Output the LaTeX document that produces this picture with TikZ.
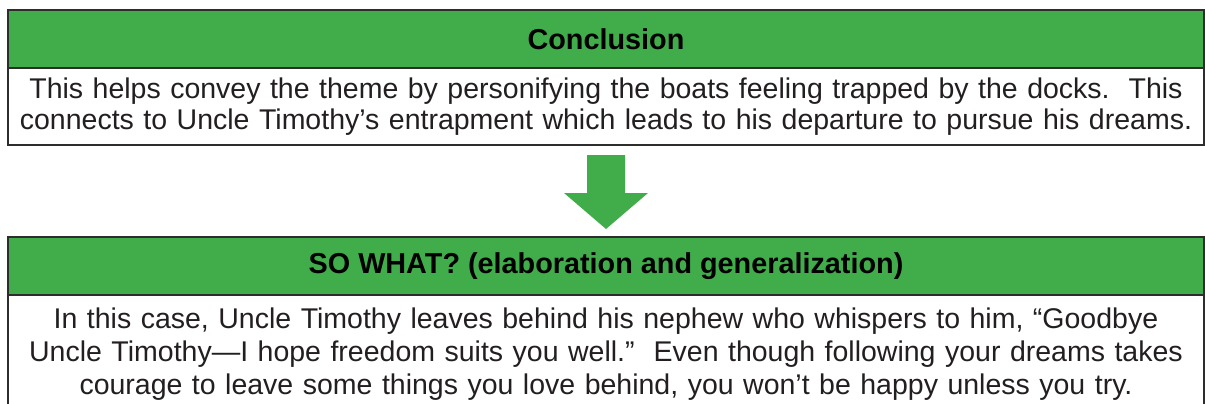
\documentclass[tikz,border=0pt]{standalone}
\usepackage{fontspec}
\setmainfont{Liberation Sans}
\usetikzlibrary{positioning,calc}

\definecolor{boxgreen}{RGB}{64,173,74}
\definecolor{edgegray}{RGB}{45,45,45}
\definecolor{inkgray}{RGB}{35,31,32}

\tikzset{
    headbox/.style={draw=edgegray, line width=1.5pt, fill=boxgreen, outer sep=0pt, inner sep=0pt,
        minimum width=1196pt, minimum height=58pt, font=\fontsize{28.8}{32}\selectfont\bfseries},
    textbox/.style={draw=edgegray, line width=1.5pt, fill=white, outer sep=0pt, inner sep=0pt,
        minimum width=1196pt, text width=1190pt, align=center, text=inkgray,
        font=\fontsize{28.5}{33}\selectfont},
}

\begin{document}
\begin{tikzpicture}[x=1pt,y=-1pt]
    \clip (0,0) rectangle (1205,404);
    % Nodes
    \node[headbox] (conclusion) at (606,39) {Conclusion};
    \node[textbox, minimum height=77pt, below=0pt of conclusion,
          font=\fontsize{28.5}{31}\selectfont] (conclusiontext)
        {This helps convey the theme by personifying the boats feeling trapped by the docks.\ \ This\\
         connects to Uncle Timothy’s entrapment which leads to his departure to pursue his dreams.};
    \node[headbox, below=92pt of conclusiontext] (sowhat) {SO WHAT? (elaboration and generalization)};
    \node[textbox, minimum height=118pt, below=0pt of sowhat] (sowhattext)
        {In this case, Uncle Timothy leaves behind his nephew who whispers to him, “Goodbye\\
         Uncle Timothy—I hope freedom suits you well.”\ \ Even though following your dreams takes\\
         courage to leave some things you love behind, you won’t be happy unless you try.};
    % Arrow
    \fill[boxgreen] ($(conclusiontext.south)+(-19,10)$) -- ($(conclusiontext.south)+(19,10)$)
        -- ($(conclusiontext.south)+(19,48)$) -- ($(conclusiontext.south)+(42,48)$)
        -- ($(sowhat.north)+(0,-8)$)
        -- ($(conclusiontext.south)+(-42,48)$) -- ($(conclusiontext.south)+(-19,48)$) -- cycle;
\end{tikzpicture}
\end{document}
